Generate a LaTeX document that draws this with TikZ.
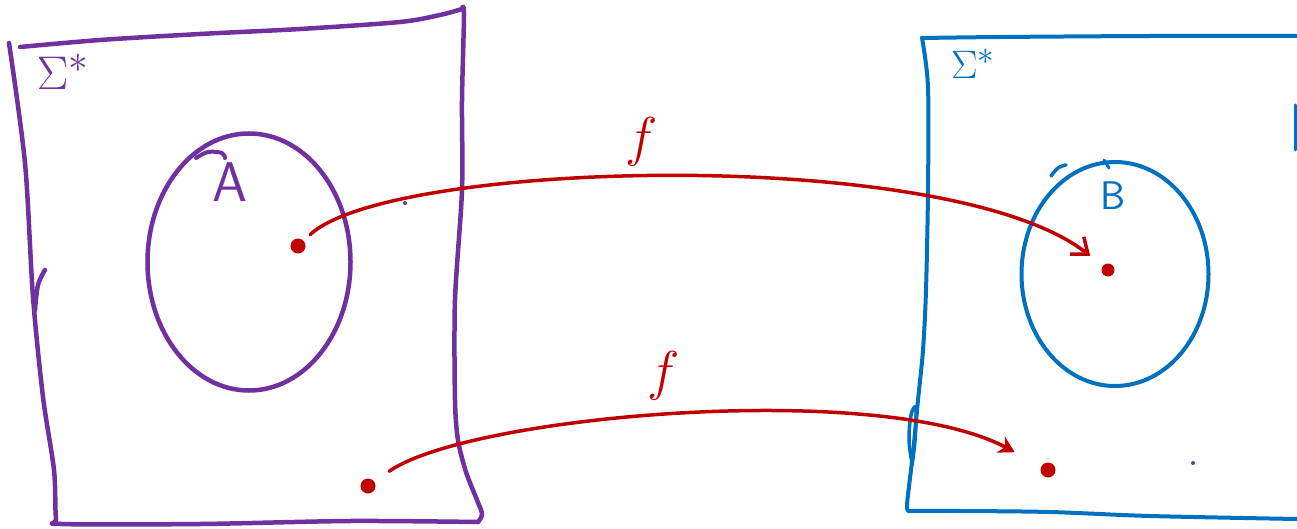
\documentclass[tikz,border=0pt]{standalone}
\usetikzlibrary{arrows.meta,shapes.geometric}
\definecolor{pur}{HTML}{7030A0}
\definecolor{blu}{HTML}{0070C0}
\definecolor{rd}{HTML}{C00000}
\begin{document}
\begin{tikzpicture}[x=1pt,y=-1pt,
  pline/.style={draw=pur,line width=4.5pt,line cap=round,line join=round},
  bline/.style={draw=blu,line width=4pt,line cap=round,line join=round},
  arr/.style={draw=rd,line width=3.5pt,line cap=round},
  dotnode/.style={circle,fill=rd,inner sep=0pt,minimum size=15pt},
  tinydot/.style={circle,inner sep=0pt,minimum size=4pt},
  setnode/.style={ellipse,inner sep=0pt},
  flab/.style={text=rd,font=\Huge,scale=2.2}]
\useasboundingbox (0,0) rectangle (1297,529);
% left box
\draw[pline] plot[smooth,tension=0.5] coordinates {(20,47) (100,40) (200,34) (300,29) (400,22) (440,15) (462,9)};
\draw[pline] plot[smooth,tension=0.5] coordinates {(462,9) (464,14) (462,100) (462,190) (455,300) (455,400) (458,440) (466,472) (477,500) (482,514) (478,522)};
\draw[pline] plot[smooth,tension=0.5] coordinates {(478,522) (350,521) (200,524) (62,524) (56,518) (54,470) (43,397) (33,297) (25,163) (9,43)};
\draw[pline] plot[smooth,tension=0.6] coordinates {(45,270) (38,285) (35,310)};
% right box
\draw[bline] plot[smooth,tension=0.5] coordinates {(922,38) (1000,37) (1150,36) (1297,36)};
\draw[bline] plot[smooth,tension=0.5] coordinates {(922,38) (928,87) (928,190) (926,290) (923,350) (918,400) (913,453) (907,505) (910,511)};
\draw[bline] plot[smooth,tension=0.5] coordinates {(910,511) (960,511) (1050,512) (1150,516) (1297,519)};
\draw[bline,line width=3.5pt] plot[smooth,tension=0.6] coordinates {(912,463) (909,440) (911,415) (916,408) (915,440) (912,465)};
\draw[bline,line width=3pt] (1295,105) -- (1295,150);
% sets
\node[setnode,draw=pur,line width=4.5pt,minimum width=203pt,minimum height=257pt] (A) at (249,262) {};
\node[setnode,draw=blu,line width=4pt,minimum width=187pt,minimum height=224pt] (B) at (1115,274) {};
\draw[pline,line width=4pt] plot[smooth,tension=0.6] coordinates {(196,158) (208,152) (222,153) (225,158)};
\draw[bline,line width=3.5pt] plot[smooth,tension=0.6] coordinates {(1051,176) (1058,168) (1066,165)};
\draw[bline,line width=3pt] (1104,160) -- (1109,168);
% labels
\node[text=pur,font=\Huge,scale=1.9] (S1) at (63,72) {$\Sigma^{*}$};
\node[text=blu,font=\Huge,scale=1.6] (S2) at (973,64) {$\Sigma^{*}$};
\node[text=pur,font=\sffamily\fontsize{56}{56}\selectfont] (Al) at (230,182) {A};
\node[text=blu,font=\sffamily\fontsize{40}{40}\selectfont] (Bl) at (1113,196) {B};
% points
\node[dotnode] (a1) at (298,246) {};
\node[dotnode,minimum size=13pt] (b1) at (1108,270) {};
\node[dotnode] (a2) at (368,486) {};
\node[dotnode] (b2) at (1048,470) {};
\node[tinydot,fill=pur] (d1) at (405,203) {};
\node[tinydot,fill=pur] (d2) at (1193,463) {};
% arrows
\draw[arr,-{Straight Barb[length=14pt,width=22pt,line width=3.5pt]},shorten <=9pt,shorten >=16pt] (a1) .. controls (390,160) and (950,145) .. (b1);
\draw[arr,-{Stealth[length=16pt,width=18pt]},shorten <=18pt,shorten >=30pt] (a2) .. controls (470,415) and (880,380) .. (b2);
\node[flab] (f1) at (642,142) {$f$};
\node[flab] (f2) at (664,376) {$f$};
\end{tikzpicture}
\end{document}
